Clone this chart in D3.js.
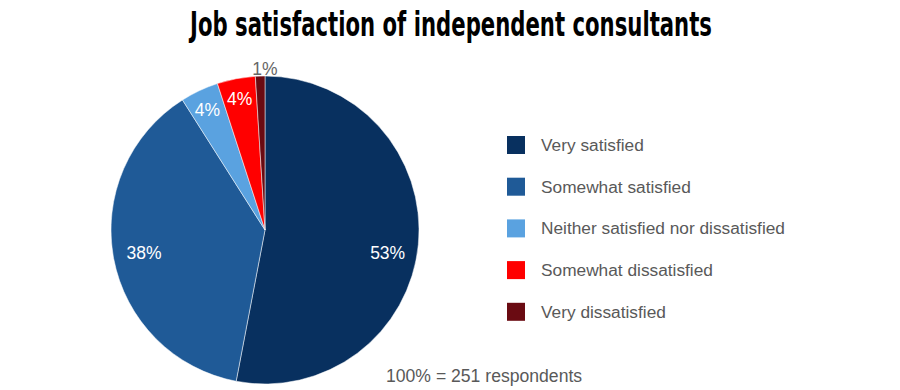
<!DOCTYPE html>
<html>
<head>
<meta charset="utf-8">
<script src="https://cdn.jsdelivr.net/npm/d3@7"></script>
<style>
  body { margin: 0; background: #fff; }
</style>
</head>
<body>
<svg id="chart" width="900" height="390"></svg>
<script>
// data
var categories = ["Very satisfied", "Somewhat satisfied", "Neither satisfied nor dissatisfied", "Somewhat dissatisfied", "Very dissatisfied"];
var shares = [53, 38, 4, 4, 1];
var colors = ["#08305f", "#1f5a97", "#5aa2e0", "#ff0000", "#6a0b12"];
var title = "Job satisfaction of independent consultants";
var footnote = "100% = 251 respondents";

var svg = d3.select("#chart"),
    cx = 265, cy = 230, radius = 154;

svg.append("rect").attr("width", 900).attr("height", 390).attr("fill", "#fff");

// title: bold, horizontally condensed to the width of the original
var titleText = svg.append("text")
    .attr("text-anchor", "middle")
    .attr("font-family", "'DejaVu Sans', sans-serif")
    .attr("font-weight", "bold")
    .attr("font-size", 34)
    .attr("fill", "#000")
    .text(title);
var tw = titleText.node().getComputedTextLength();
titleText.attr("transform", "translate(451,36) scale(" + (522 / tw) + ",1)");

var data = categories.map(function(c, i) { return {name: c, value: shares[i]}; });

var z = d3.scaleOrdinal().domain(categories).range(colors);

var pie = d3.pie().sort(null).value(function(d) { return d.value; });
var arc = d3.arc().innerRadius(0).outerRadius(radius);

var g = svg.append("g").attr("transform", "translate(" + cx + "," + cy + ")");

var arcs = pie(data);

g.selectAll("path")
  .data(arcs)
  .enter().append("path")
    .attr("d", arc)
    .attr("fill", function(d) { return z(d.data.name); })
    .attr("stroke", "#fff")
    .attr("stroke-width", 0.5);

// labels: inside for larger slices, outside for the tiny one
var labelArc = d3.arc().innerRadius(radius * 0.8).outerRadius(radius * 0.8);
var smallArc = d3.arc().innerRadius(radius * 0.88).outerRadius(radius * 0.88);
var outerArc = d3.arc().innerRadius(radius + 7).outerRadius(radius + 7);

g.selectAll("text.lbl")
  .data(arcs)
  .enter().append("text")
    .attr("class", "lbl")
    .attr("transform", function(d) {
      var p;
      if (d.data.value < 2) { p = outerArc.centroid(d); p[0] += 5; }
      else if (d.data.value < 10) { p = smallArc.centroid(d); p[1] += 2; }
      else { p = labelArc.centroid(d); p[1] = radius * 0.15; }
      return "translate(" + p + ")";
    })
    .attr("dy", "0.35em")
    .attr("text-anchor", "middle")
    .attr("font-family", "'Liberation Sans', Arial, sans-serif")
    .attr("font-size", 17.5)
    .attr("fill", function(d) { return d.data.value < 2 ? "#666" : "#fff"; })
    .text(function(d) { return d.data.value + "%"; });

// legend
var legend = svg.append("g")
    .attr("font-family", "'Liberation Sans', Arial, sans-serif")
    .attr("font-size", 17.3)
  .selectAll("g")
  .data(categories)
  .enter().append("g")
    .attr("transform", function(d, i) { return "translate(507," + (136 + i * 41.7) + ")"; });

legend.append("rect")
    .attr("width", 18)
    .attr("height", 18)
    .attr("fill", z);

legend.append("text")
    .attr("x", 34)
    .attr("y", 9)
    .attr("dy", "0.35em")
    .attr("fill", "#595959")
    .text(function(d) { return d; });

// footnote
svg.append("text")
    .attr("x", 386)
    .attr("y", 382)
    .attr("font-family", "'Liberation Sans', Arial, sans-serif")
    .attr("font-size", 17.6)
    .attr("fill", "#595959")
    .text(footnote);
</script>
</body>
</html>
